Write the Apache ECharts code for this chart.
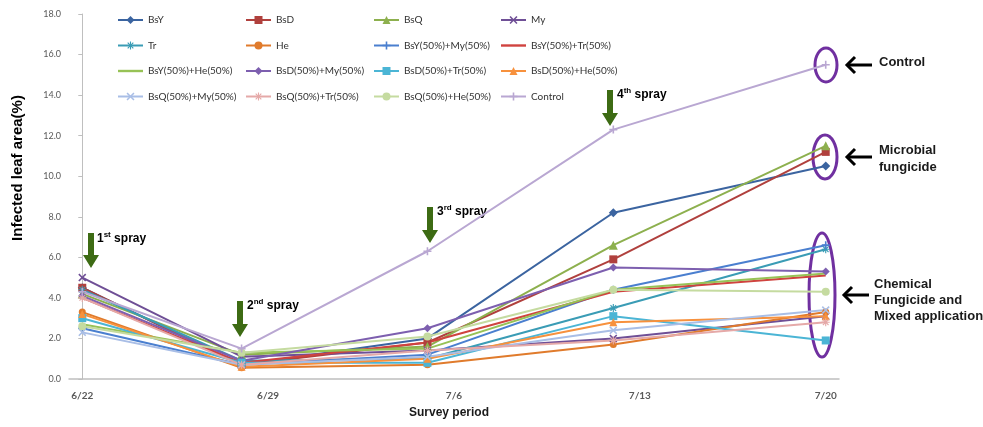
<!DOCTYPE html>
<html>
<head>
<meta charset="utf-8">
<script src="https://cdn.jsdelivr.net/npm/echarts@6/dist/echarts.min.js"></script>
<style>html,body{margin:0;padding:0;background:#fff}#c{width:983px;height:427px}</style>
</head>
<body>
<div id="c"></div>
<script>
// Survey dates: day offsets from 6/22 at which each survey was made
const surveyDays = [0, 6, 13, 20, 28];
// Axis tick labels and their day offsets
const tickLabels = ['6/22', '6/29', '7/6', '7/13', '7/20'];
const tickDays = [0, 7, 14, 21, 28];
const yTicks = [0, 2, 4, 6, 8, 10, 12, 14, 16, 18];

// Series names
const seriesNames = [
  'BsY', 'BsD', 'BsQ', 'My',
  'Tr', 'He', 'BsY(50%)+My(50%)', 'BsY(50%)+Tr(50%)',
  'BsY(50%)+He(50%)', 'BsD(50%)+My(50%)', 'BsD(50%)+Tr(50%)', 'BsD(50%)+He(50%)',
  'BsQ(50%)+My(50%)', 'BsQ(50%)+Tr(50%)', 'BsQ(50%)+He(50%)', 'Control'
];
// Infected leaf area (%) per survey
const BsY      = [4.5, 0.7, 2.0, 8.2, 10.5];
const BsD      = [4.5, 0.7, 1.8, 5.9, 11.2];
const BsQ      = [4.2, 1.2, 1.6, 6.6, 11.5];
const My       = [5.0, 1.1, 1.4, 2.0, 3.1];
const Tr       = [4.4, 0.9, 1.0, 3.5, 6.4];
const He       = [3.3, 0.55, 0.7, 1.7, 3.3];
const BsY_My   = [2.5, 0.7, 1.2, 4.4, 6.6];
const BsY_Tr   = [4.0, 0.8, 1.8, 4.3, 5.1];
const BsY_He   = [2.7, 1.3, 1.5, 4.4, 5.2];
const BsD_My   = [4.1, 0.9, 2.5, 5.5, 5.3];
const BsD_Tr   = [3.0, 0.8, 0.8, 3.1, 1.9];
const BsD_He   = [3.2, 0.6, 1.0, 2.8, 3.1];
const BsQ_My   = [2.3, 0.7, 1.1, 2.4, 3.4];
const BsQ_Tr   = [4.0, 0.7, 1.4, 1.9, 2.8];
const BsQ_He   = [2.6, 1.3, 2.1, 4.4, 4.3];
const Control  = [4.3, 1.5, 6.3, 12.3, 15.5];
const seriesValues = [BsY, BsD, BsQ, My, Tr, He, BsY_My, BsY_Tr, BsY_He, BsD_My, BsD_Tr, BsD_He, BsQ_My, BsQ_Tr, BsQ_He, Control];

const PLUS = 'path://M4,0H6V4H10V6H6V10H4V6H0V4H4Z';
const XMK = 'path://M1.4,0L5,3.6L8.6,0L10,1.4L6.4,5L10,8.6L8.6,10L5,6.4L1.4,10L0,8.6L3.6,5L0,1.4Z';
const STAR = 'path://M4.3,0H5.7V3.3L8,1L9,2L6.7,4.3H10V5.7H6.7L9,8L8,9L5.7,6.7V10H4.3V6.7L2,9L1,8L3.3,5.7H0V4.3H3.3L1,2L2,1L4.3,3.3Z';
const LINEICON = 'path://M0,0H25V2.4H0Z';

const styles = [
  {c:'#3B64A0', s:'diamond', z:9},
  {c:'#B0403D', s:'rect', z:8},
  {c:'#8DB04E', s:'triangle', z:9},
  {c:'#6F4F96', s:XMK, z:8},
  {c:'#3A9CB5', s:STAR, z:8},
  {c:'#E07B2C', s:'circle', z:7},
  {c:'#4A7FCF', s:PLUS, z:8},
  {c:'#D0433F', s:'none', z:0},
  {c:'#97C256', s:'none', z:0},
  {c:'#7D5FAF', s:'diamond', z:8},
  {c:'#4BB5D5', s:'rect', z:8},
  {c:'#F7913D', s:'triangle', z:8},
  {c:'#A9BEE6', s:XMK, z:8},
  {c:'#E5A9A8', s:STAR, z:8},
  {c:'#C5DBA0', s:'circle', z:8},
  {c:'#B9A7D2', s:PLUS, z:8}
];

const series = seriesNames.map((n, i) => ({
  name: n,
  type: 'line',
  data: seriesValues[i].map((v, j) => [surveyDays[j], v]),
  symbol: styles[i].s,
  symbolSize: styles[i].z,
  showSymbol: styles[i].s !== 'none',
  lineStyle: {color: styles[i].c, width: 2},
  itemStyle: {color: styles[i].c},
  emphasis: {disabled: true},
  animation: false
}));

const legendFont = {fontFamily: 'Lato', fontSize: 10, color: '#333'};
const legCols = [117, 245, 373, 500];
const legends = legCols.map((x, k) => ({
  orient: 'vertical',
  left: x, top: 15, padding: 0,
  itemWidth: 25, itemHeight: 10, itemGap: 15.5,
  textStyle: legendFont,
  data: [0, 1, 2, 3].map(r => {
    const idx = r * 4 + k;
    return styles[idx].s === 'none' ? {name: seriesNames[idx], icon: LINEICON} : seriesNames[idx];
  })
}));

function downArrow(cx, top, bottom) {
  const hw = 3, headW = 8, headH = 13;
  return {
    type: 'polygon', silent: true,
    shape: {points: [[cx - hw, top], [cx + hw, top], [cx + hw, bottom - headH], [cx + headW, bottom - headH], [cx, bottom], [cx - headW, bottom - headH], [cx - hw, bottom - headH]]},
    style: {fill: '#3D6B14'}
  };
}
function sprayText(x, y, n, sup) {
  return {
    type: 'text', silent: true, x: x, y: y,
    style: {
      text: '{a|' + n + '}{s|' + sup + '}{a| spray}',
      rich: {
        a: {fontFamily: 'Liberation Sans', fontWeight: 'bold', fontSize: 12, color: '#000', verticalAlign: 'bottom', lineHeight: 14},
        s: {fontFamily: 'Liberation Sans', fontWeight: 'bold', fontSize: 8, color: '#000', verticalAlign: 'top', lineHeight: 14}
      }
    }
  };
}
function leftArrow(tipX, y, len) {
  return [
    {type: 'line', silent: true, shape: {x1: tipX + 1, y1: y, x2: tipX + len, y2: y}, style: {stroke: '#000', lineWidth: 3}},
    {type: 'polyline', silent: true, shape: {points: [[tipX + 9, y - 8], [tipX + 1, y], [tipX + 9, y + 8]]}, style: {stroke: '#000', lineWidth: 3, fill: null}}
  ];
}
function ellipse(cx, cy, rx, ry) {
  return {type: 'ellipse', silent: true, shape: {cx: cx, cy: cy, rx: rx, ry: ry}, style: {stroke: '#7030A0', lineWidth: 3, fill: null}};
}
const annFont = {fontFamily: 'Liberation Sans', fontWeight: 'bold', fontSize: 13, fill: '#1a1a1a'};

const graphics = [
  downArrow(91, 233, 268), sprayText(97, 231, '1', 'st'),
  downArrow(240, 301, 337), sprayText(247, 298, '2', 'nd'),
  downArrow(430, 207, 243), sprayText(437, 204, '3', 'rd'),
  downArrow(610, 90, 126), sprayText(617, 87, '4', 'th'),
  ellipse(826, 65, 11, 17),
  ellipse(825, 157, 12, 22),
  ellipse(822, 295, 13, 62),
  ...leftArrow(846, 65, 26),
  ...leftArrow(846, 157, 26),
  ...leftArrow(843, 295, 26),
  {type: 'text', silent: true, x: 879, y: 56, style: Object.assign({text: 'Control'}, annFont)},
  {type: 'text', silent: true, x: 879, y: 142, style: Object.assign({text: 'Microbial\nfungicide', lineHeight: 17}, annFont)},
  {type: 'text', silent: true, x: 874, y: 276, style: Object.assign({text: 'Chemical\nFungicide and\nMixed application', lineHeight: 16, fontSize: 12}, annFont)},
  {type: 'text', silent: true, x: 18, y: 168, rotation: Math.PI / 2,
   style: {text: 'Infected leaf area(%)', fontFamily: 'Liberation Sans', fontWeight: 'bold', fontSize: 15, fill: '#000', align: 'center', verticalAlign: 'middle'}}
];

const chart = echarts.init(document.getElementById('c'), null, {renderer: 'canvas'});
chart.setOption({
  animation: false,
  backgroundColor: '#fff',
  grid: {left: 69, right: 144, top: 14, bottom: 48, containLabel: false},
  legend: legends,
  xAxis: {
    type: 'value', min: -0.5, max: 28.5,
    name: 'Survey period', nameLocation: 'middle', nameGap: 28,
    nameTextStyle: {fontFamily: 'Liberation Sans', fontWeight: 'bold', fontSize: 12, color: '#1a1a1a', padding: [0, 10, 0, 0]},
    axisLine: {show: true, lineStyle: {color: '#BFBFBF', width: 1.5}},
    axisTick: {show: false},
    splitLine: {show: false},
    axisLabel: {
      customValues: tickDays,
      formatter: v => tickLabels[tickDays.indexOf(v)],
      fontFamily: 'Lato', fontSize: 10, fontWeight: 'bold', color: '#595959', margin: 12
    }
  },
  yAxis: {
    type: 'value', min: yTicks[0], max: yTicks[yTicks.length - 1], interval: 2,
    axisLine: {show: true, lineStyle: {color: '#BFBFBF', width: 1}},
    axisTick: {show: true, inside: false, length: 4, lineStyle: {color: '#BFBFBF'}},
    splitLine: {show: false},
    axisLabel: {formatter: v => v.toFixed(1), fontFamily: 'Lato', fontSize: 9, color: '#595959', margin: 8}
  },
  series: series,
  graphic: graphics
});
</script>
</body>
</html>
